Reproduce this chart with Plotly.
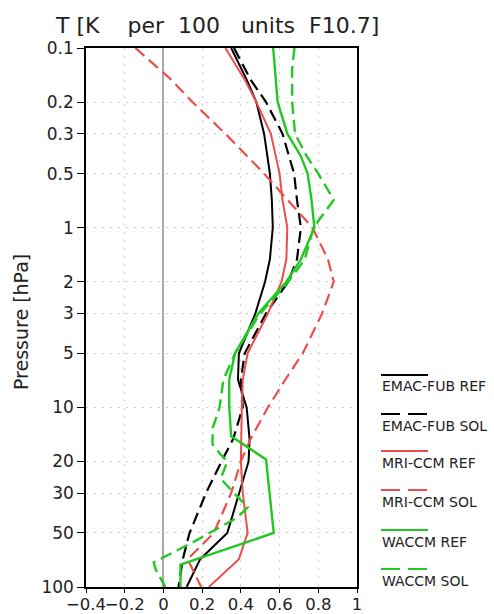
import plotly.graph_objects as go

# ---------------- data ----------------
pressure = [0.1, 0.15, 0.2, 0.3, 0.5, 0.7, 1, 1.5, 2, 3, 5, 7, 10, 15, 20, 30, 50, 70, 100]

emac_ref = [0.35, 0.43, 0.48, 0.52, 0.55, 0.56, 0.565, 0.55, 0.525, 0.475, 0.39, 0.385, 0.43, 0.445, 0.44, 0.39, 0.33, 0.19, 0.12]
emac_sol = [0.365, 0.45, 0.53, 0.615, 0.675, 0.69, 0.71, 0.69, 0.645, 0.53, 0.42, 0.40, 0.41, 0.36, 0.30, 0.22, 0.135, 0.10, 0.078]
mri_ref = [0.32, 0.42, 0.48, 0.555, 0.60, 0.615, 0.64, 0.635, 0.61, 0.54, 0.435, 0.41, 0.405, 0.40, 0.40, 0.41, 0.435, 0.39, 0.235]
mri_sol = [-0.145, 0.04, 0.15, 0.32, 0.52, 0.64, 0.77, 0.85, 0.88, 0.82, 0.72, 0.63, 0.54, 0.45, 0.40, 0.35, 0.26, 0.125, 0.195]

waccm_ref_p = [0.1, 0.2, 0.3, 0.4, 0.5, 0.7, 1, 1.5, 2, 3, 5, 7, 10, 14.5, 19.5, 50, 75, 100]
waccm_ref = [0.567, 0.59, 0.64, 0.71, 0.745, 0.765, 0.78, 0.71, 0.635, 0.49, 0.37, 0.34, 0.34, 0.35, 0.53, 0.57, 0.088, 0.088]

waccm_sol_p = [0.1, 0.13, 0.2, 0.3, 0.4, 0.5, 0.7, 1, 1.5, 2, 3, 5, 7, 10, 13, 16, 18, 20, 25, 36, 41, 55, 73, 80, 100]
waccm_sol = [0.677, 0.665, 0.665, 0.68, 0.74, 0.80, 0.88, 0.775, 0.73, 0.645, 0.50, 0.37, 0.31, 0.29, 0.255, 0.253, 0.29, 0.33, 0.296, 0.435, 0.383, 0.17, -0.05, -0.04, 0.01]

y_tickvals = [0.1, 0.2, 0.3, 0.5, 1, 2, 3, 5, 10, 20, 30, 50, 100]
y_ticktext = ["0.1", "0.2", "0.3", "0.5", "1", "2", "3", "5", "10", "20", "30", "50", "100"]

series_names = ["EMAC-FUB REF", "EMAC-FUB SOL", "MRI-CCM REF", "MRI-CCM SOL", "WACCM REF", "WACCM SOL"]

# ---------------- styling ----------------
BLACK = "#000000"
RED = "#EC4D4D"
GREEN = "#22C822"
DASH = "12px,6px"
FONT = "DejaVu Sans"
GRID = "#cfcfcf"
NB = "\u00a0"

series = [
    (emac_ref, pressure, BLACK, "solid", 2.0),
    (emac_sol, pressure, BLACK, DASH, 2.2),
    (mri_ref, pressure, RED, "solid", 2.0),
    (mri_sol, pressure, RED, DASH, 2.2),
    (waccm_ref, waccm_ref_p, GREEN, "solid", 2.4),
    (waccm_sol, waccm_sol_p, GREEN, DASH, 2.4),
]

fig = go.Figure()
for name, (xv, pv, col, dash, w) in zip(series_names, series):
    fig.add_trace(go.Scatter(x=xv, y=pv, mode="lines", name=name,
                             line=dict(color=col, dash=dash, width=w),
                             showlegend=False))

W, H = 494, 614
ML, MR, MT, MB = 86, 137, 48, 27
pw = W - ML - MR
ph = H - MT - MB


def px_x(x):
    return (x - ML) / pw


def px_y(y):
    return (H - MB - y) / ph


fig.update_layout(
    width=W, height=H,
    margin=dict(l=ML, r=MR, t=MT, b=MB, autoexpand=False),
    paper_bgcolor="white", plot_bgcolor="white",
    font=dict(family=FONT, color="#222222"),
)

fig.update_xaxes(
    range=[-0.4, 1], tick0=0, dtick=0.2, tickangle=0, automargin=False,
    ticks="outside", ticklen=4, tickcolor="black", tickwidth=1.2,
    ticklabelstandoff=-3,
    tickfont=dict(size=16.5, family=FONT, color="#222222"),
    showgrid=True, gridcolor=GRID, griddash="2px,6px", gridwidth=1.2,
    zeroline=True, zerolinecolor="#a8a8a8", zerolinewidth=1.5,
    showline=True, linecolor="black", linewidth=1.5, mirror=True,
)
fig.update_yaxes(
    type="log", range=[2, -1], automargin=False,
    tickvals=y_tickvals, ticktext=y_ticktext,
    ticks="outside", ticklen=7, tickcolor="black", tickwidth=1.2,
    tickfont=dict(size=17, family=FONT, color="#222222"),
    showgrid=True, gridcolor=GRID, griddash="2px,6px", gridwidth=1.2,
    zeroline=False,
    showline=True, linecolor="black", linewidth=1.5, mirror=True,
)

# title
title_text = "T" + NB + "[K" + NB * 4 + "per" + NB * 2 + "100" + NB * 3 + "units" + NB * 2 + "F10.7]"
fig.add_annotation(
    text=title_text,
    xref="paper", yref="paper", x=px_x(53), y=px_y(25),
    xanchor="left", yanchor="middle", showarrow=False,
    font=dict(size=22, family=FONT, color="#222222"),
)
# y-axis title
fig.add_annotation(
    text="Pressure [hPa]", textangle=-90,
    xref="paper", yref="paper", x=px_x(21), y=px_y(322),
    xanchor="center", yanchor="middle", showarrow=False,
    font=dict(size=19, family=FONT, color="#222222"),
)

# manual legend: line sample above label
leg_line_y = [375, 414, 451, 490, 530, 569]
leg_text_y = [386, 426, 463, 502, 542, 581]
for name, (xv, pv, col, dash, w), ly, ty in zip(series_names, series, leg_line_y, leg_text_y):
    fig.add_shape(type="line", xref="paper", yref="paper",
                  x0=px_x(381), x1=px_x(428), y0=px_y(ly), y1=px_y(ly),
                  line=dict(color=col, width=2, dash="19px,8px" if dash != "solid" else "solid"))
    fig.add_annotation(text=name, xref="paper", yref="paper",
                       x=px_x(380), y=px_y(ty), xanchor="left", yanchor="middle",
                       showarrow=False, font=dict(size=14, family=FONT, color="#222222"))

fig.write_html(
    "out.html",
    config={"displayModeBar": False},
    post_script="document.body.style.margin='0px';document.body.style.overflow='hidden';",
)
